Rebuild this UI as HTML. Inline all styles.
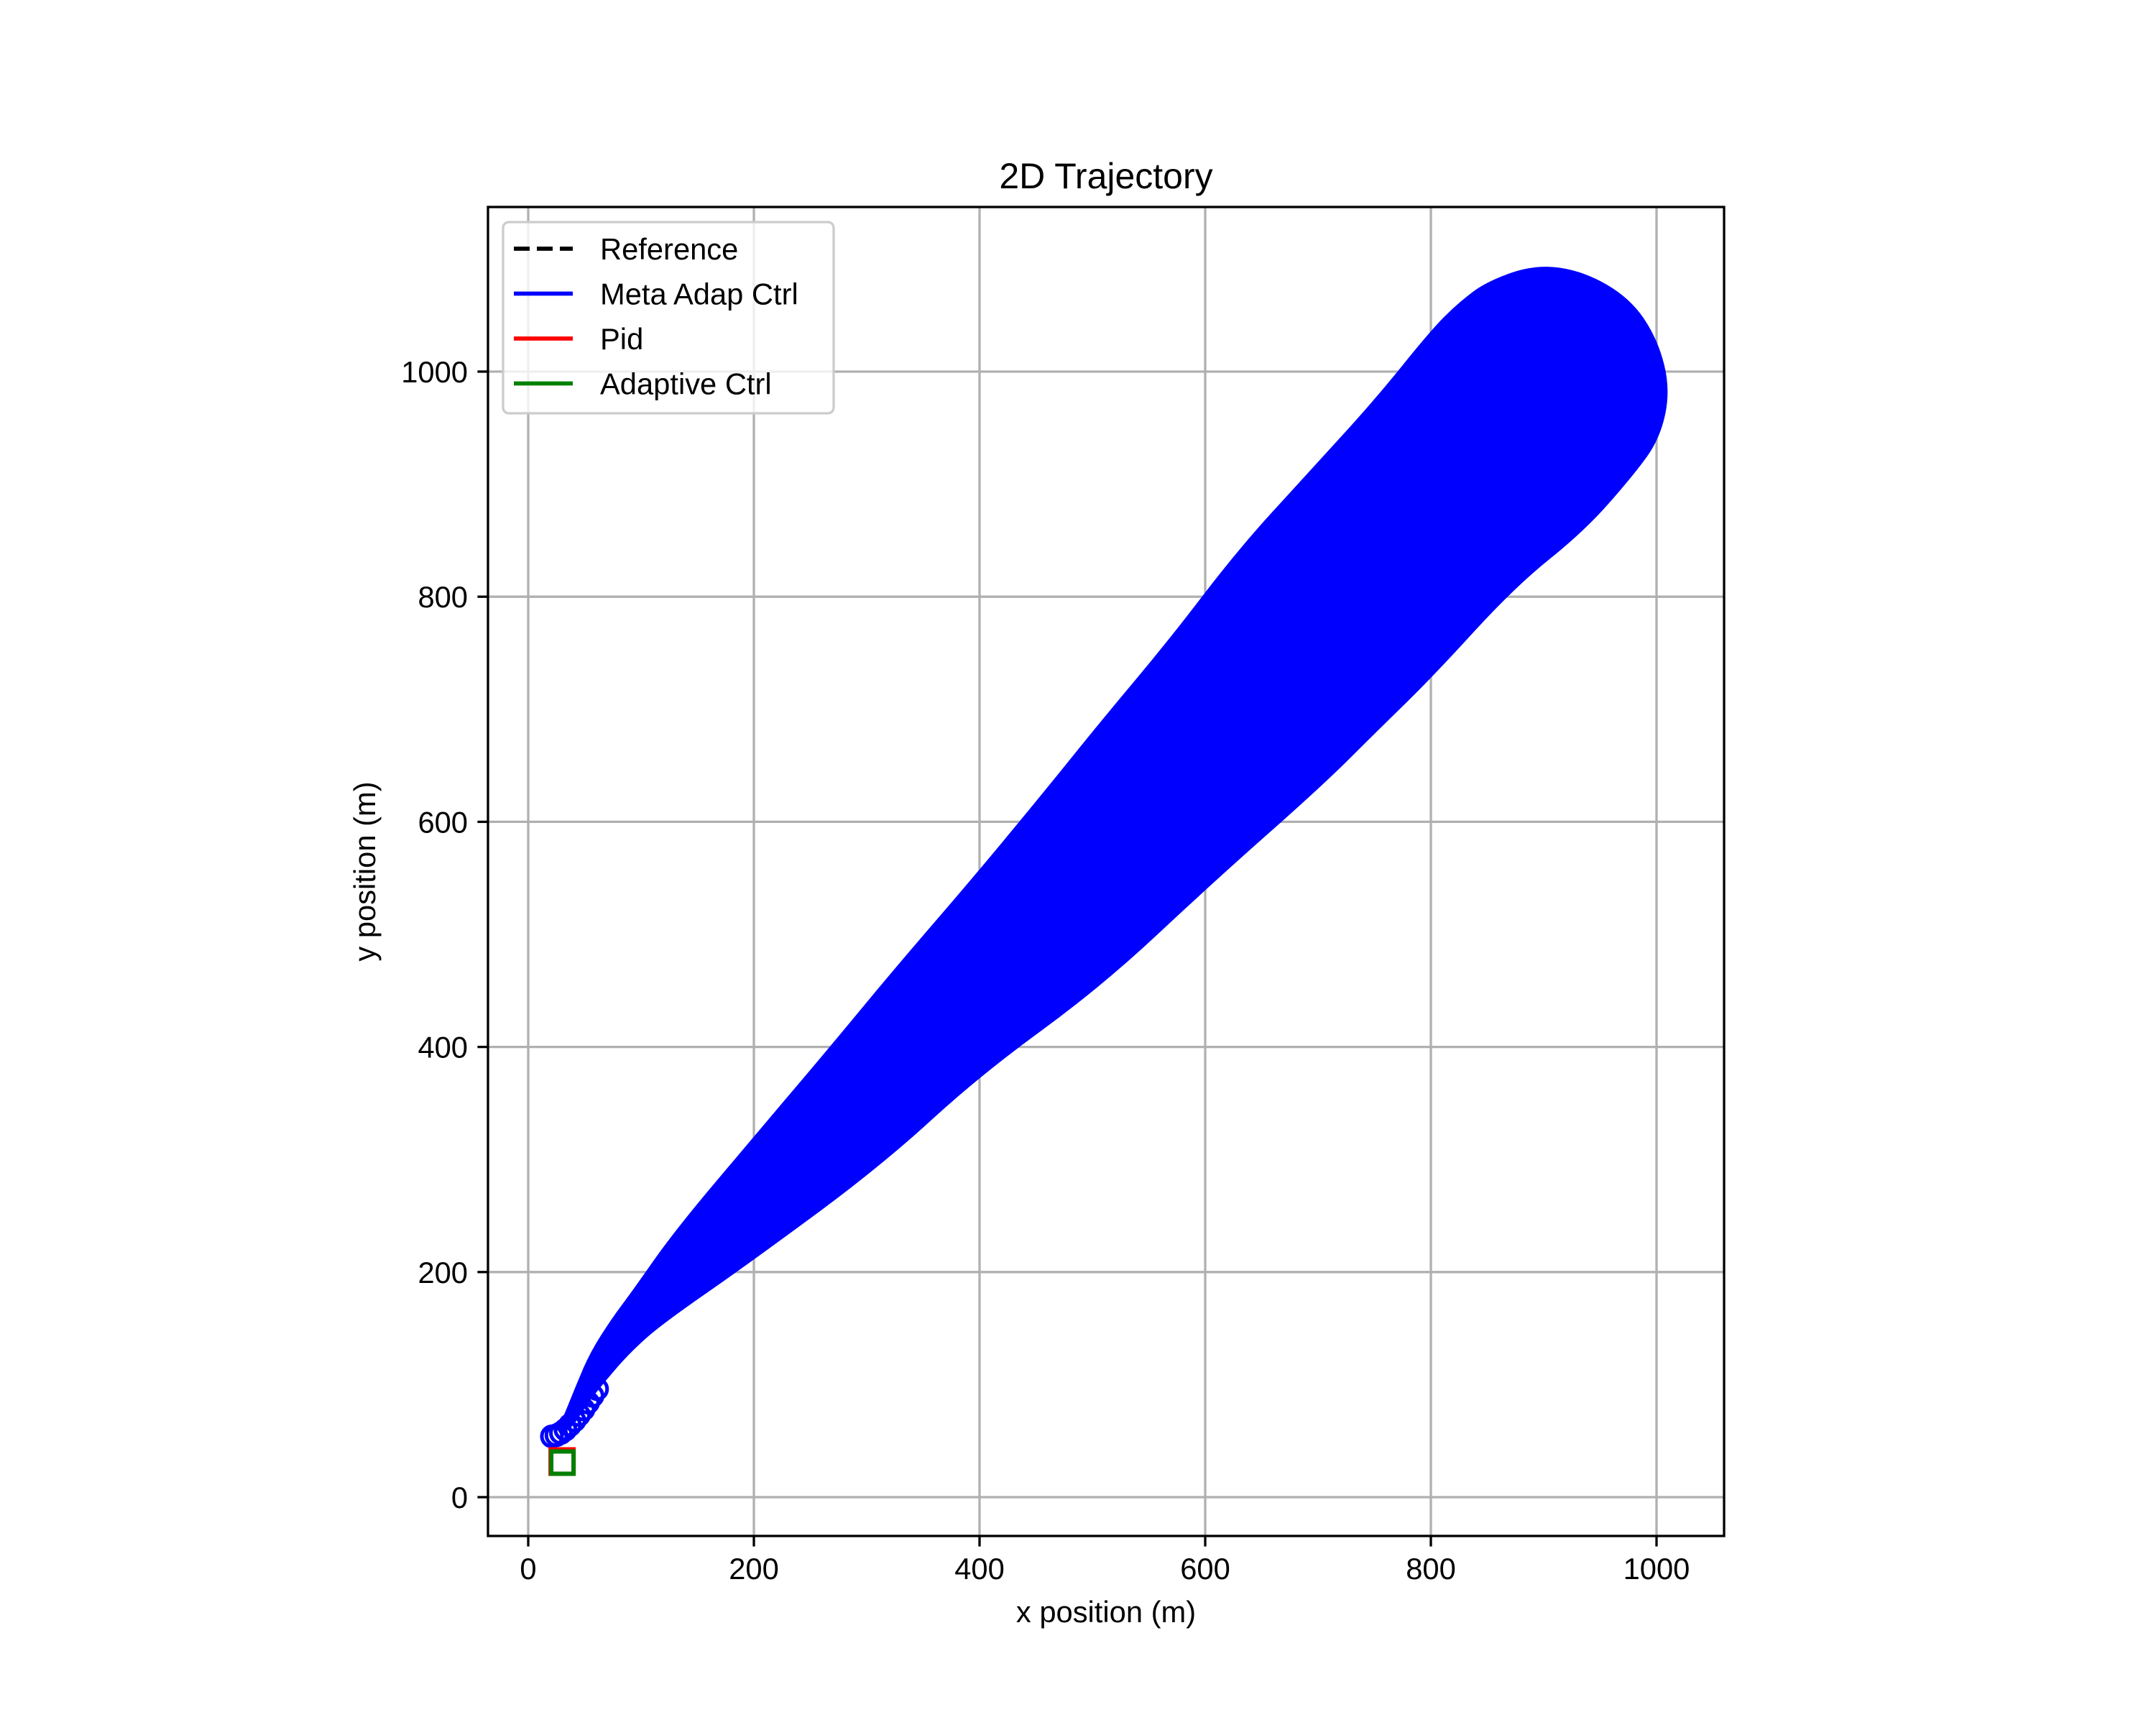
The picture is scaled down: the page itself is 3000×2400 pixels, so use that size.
<!DOCTYPE html>
<html><head><meta charset="utf-8"><title>2D Trajectory</title>
<style>html,body{margin:0;padding:0;background:#fff}svg{display:block}text{font-family:"Liberation Sans","DejaVu Sans",sans-serif}</style>
</head><body>
<svg id="chart" width="3000" height="2400" viewBox="0 0 3000 2400" xmlns="http://www.w3.org/2000/svg"></svg>
<script>
const xTicks=[0,200,400,600,800,1000];
const yTicks=[0,200,400,600,800,1000];
const upperX=[26,32,44,56,75,93,130,197,264,325,398,459,508,569,630,691,752,801,825,850,893,935,976,1000,1011];
const upperY=[58,70,100,128,158,182,235,315,394,468,553,627,688,761,841,908,975,1036,1060,1079,1094,1088,1064,1028,984];
const lowerX=[1002,978,935,874,801,752,703,606,508,400,313,197,118,90,69,50,38];
const lowerY=[941,908,859,810,730,682,633,547,455,376,296,210,155,130,106,82,62];
const circX=[21,25,29,33,37,41,45,49,53,57,61];
const circY=[54,55,57,60,64,68,73,78,84,90,96];
const startX=[30];const startY=[31];
const seriesNames=["Reference","Meta Adap Ctrl","Pid","Adaptive Ctrl"];

const NS="http://www.w3.org/2000/svg";
const svg=document.getElementById('chart');
const X0=735,KX=1.570,Y0=2083,KY=1.566;
const L=679,R=2399,T=288,B=2137;
function sx(v){return X0+KX*v;}
function sy(v){return Y0-KY*v;}
function mk(tag,attrs,parent){const e=document.createElementNS(NS,tag);for(const k in attrs)e.setAttribute(k,attrs[k]);(parent||svg).appendChild(e);return e;}

const grid=mk('g',{});


xTicks.forEach(v=>{const l=mk('line',{x1:sx(v),x2:sx(v),y1:T,y2:B,stroke:'#b0b0b0','stroke-width':3.3},grid);

});
yTicks.forEach(v=>{const l=mk('line',{x1:L,x2:R,y1:sy(v),y2:sy(v),stroke:'#b0b0b0','stroke-width':3.3},grid);

});

const cp=mk('clipPath',{id:'clip'});mk('rect',{x:L,y:T,width:R-L,height:B-T},cp);
const plot=mk('g',{'clip-path':'url(#clip)'});


let P=[];
for(let i=0;i<upperX.length;i++)P.push([sx(upperX[i]),sy(upperY[i])]);
for(let i=0;i<lowerX.length;i++)P.push([sx(lowerX[i]),sy(lowerY[i])]);
// smooth closed path through midpoints
let n=P.length;
function mid(a,b){return [(a[0]+b[0])/2,(a[1]+b[1])/2];}
let m0=mid(P[n-1],P[0]);
let d='M'+m0[0]+','+m0[1];
for(let i=0;i<n;i++){const m=mid(P[i],P[(i+1)%n]);d+=' Q'+P[i][0]+','+P[i][1]+' '+m[0]+','+m[1];}
d+='Z';
const poly=mk('path',{d:d,fill:'#0000ff',stroke:'#0000ff','stroke-width':4,'stroke-linejoin':'round'},plot);


for(let i=0;i<circX.length;i++){const c=mk('circle',{cx:sx(circX[i]),cy:sy(circY[i]),r:14,fill:'none',stroke:'#0000ff','stroke-width':5},plot);

}
const sq1=mk('rect',{x:sx(startX[0])-16,y:sy(startY[0])-18,width:32,height:34,fill:'none',stroke:'#ff0000','stroke-width':6},plot);


const sq2=mk('rect',{x:sx(startX[0])-15,y:sy(startY[0])-15,width:31,height:31,fill:'none',stroke:'#008000','stroke-width':6},plot);



const frame=mk('rect',{x:L,y:T,width:R-L,height:B-T,fill:'none',stroke:'#000','stroke-width':3.3});



xTicks.forEach(v=>{const t=mk('line',{x1:sx(v),x2:sx(v),y1:B,y2:B+14.6,stroke:'#000','stroke-width':3.3});


const tx=mk('text',{x:sx(v),y:B+60,'font-size':41.7,'text-anchor':'middle',fill:'#000'});tx.textContent=v;

});
yTicks.forEach(v=>{const t=mk('line',{x1:L-14.6,x2:L,y1:sy(v),y2:sy(v),stroke:'#000','stroke-width':3.3});


const tx=mk('text',{x:L-28,y:sy(v)+15,'font-size':41.7,'text-anchor':'end',fill:'#000'});tx.textContent=v;

});

const title=mk('text',{x:(L+R)/2,y:262,'font-size':50,'text-anchor':'middle',fill:'#000'});title.textContent='2D Trajectory';


const xl=mk('text',{x:(L+R)/2,y:2257,'font-size':41.7,'text-anchor':'middle',fill:'#000'});xl.textContent='x position (m)';


const yl=mk('text',{x:0,y:0,'font-size':41.7,'text-anchor':'middle',fill:'#000',transform:'translate(522,'+((T+B)/2)+') rotate(-90)'});yl.textContent='y position (m)';



const leg=mk('g',{});


mk('rect',{x:700,y:309,width:460,height:266,rx:8,fill:'#fff','fill-opacity':0.8,stroke:'#cccccc','stroke-width':3.3},leg);
const colors=['#000','#0000ff','#ff0000','#008000'];
seriesNames.forEach((n,i)=>{const y=346+i*62.5;
const e=mk('g',{},leg);


const ln=mk('line',{x1:715,x2:797,y1:y,y2:y,stroke:colors[i],'stroke-width':5.8},e);
if(i===0)ln.setAttribute('stroke-dasharray','22 10');
const t=mk('text',{x:835,y:y+15,'font-size':41.7,fill:'#000'},e);t.textContent=n;});
</script>
</body></html>
